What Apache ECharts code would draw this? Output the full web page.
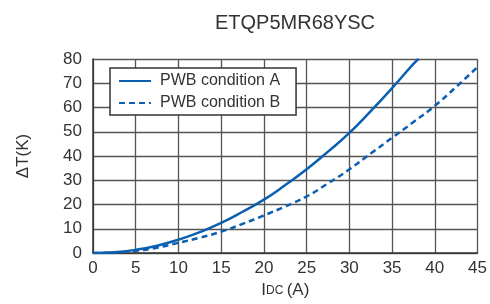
<!DOCTYPE html>
<html>
<head>
<meta charset="utf-8">
<script src="https://cdn.jsdelivr.net/npm/echarts@6/dist/echarts.min.js"></script>
<style>
  html, body { margin: 0; padding: 0; background: #fff; }
  #chart { width: 490px; height: 304px; }
</style>
</head>
<body>
<div id="chart"></div>
<script>
const title = 'ETQP5MR68YSC'
const seriesNames = ['PWB condition A', 'PWB condition B']
const currentA = [0, 2.5, 5, 7.5, 10, 12.5, 15, 17.5, 20, 22.5, 25, 27.5, 30, 32.5, 35, 37.5, 38.1]
const riseA = [0, 0.3, 1.3, 3, 5.5, 8.6, 12.4, 17, 22, 28, 34.5, 41.8, 49.5, 58.5, 68, 78, 80]
const currentB = [0, 2.5, 5, 7.5, 10, 12.5, 15, 17.5, 20, 22.5, 25, 27.5, 30, 32.5, 35, 37.5, 40, 42.5, 45]
const riseB = [0, 0.2, 0.9, 2.2, 4.2, 6.3, 8.8, 12, 15.5, 19.2, 23.3, 28.7, 34.5, 41, 47.5, 54, 60.7, 68.5, 76.7]

const font = '"Liberation Sans", Arial, sans-serif'
const chart = echarts.init(document.getElementById('chart'))

const pairs = (xs, ys) => xs.map((x, i) => [x, ys[i]])

chart.setOption({
  backgroundColor: '#fff',
  animation: false,
  title: {
    text: title,
    left: 290,
    textAlign: 'center',
    top: 8,
    textStyle: { color: '#333', fontSize: 20, fontWeight: 'normal', fontFamily: font }
  },
  legend: {
    left: 110,
    top: 68,
    orient: 'vertical',
    itemWidth: 32,
    itemHeight: 10,
    itemGap: 6,
    padding: [5, 16, 4, 8],
    backgroundColor: '#fff',
    borderColor: '#333',
    borderWidth: 1.5,
    borderRadius: 0,
    itemStyle: { opacity: 0 },
    lineStyle: { opacity: 1 },
    textStyle: { color: '#333', fontSize: 16, fontFamily: font, padding: [0, 0, 0, 4] },
    data: seriesNames
  },
  grid: { left: 93, right: 6, top: 59, bottom: 51 },
  xAxis: {
    type: 'value',
    min: 0,
    max: 45,
    interval: 5,
    name: '{i|I}{s|DC} {i|(A)}',
    nameLocation: 'middle',
    nameGap: 29,
    nameTextStyle: {
      rich: {
        i: { fontSize: 17, color: '#333', fontFamily: font },
        s: { fontSize: 12, color: '#333', fontFamily: font }
      }
    },
    axisLine: { show: true, lineStyle: { color: '#333', width: 1.5 } },
    axisTick: { show: false },
    axisLabel: { color: '#333', fontSize: 17, fontFamily: font, margin: 7 },
    splitLine: { show: true, lineStyle: { color: '#555', width: 1.3 } }
  },
  yAxis: {
    type: 'value',
    min: 0,
    max: 80,
    interval: 10,
    name: 'ΔT(K)',
    nameLocation: 'middle',
    nameGap: 61,
    nameTextStyle: { color: '#333', fontSize: 17, fontFamily: font },
    axisLine: { show: true, lineStyle: { color: '#333', width: 1.5 } },
    axisTick: { show: false },
    axisLabel: { color: '#333', fontSize: 17, fontFamily: font, margin: 11 },
    splitLine: { show: true, lineStyle: { color: '#555', width: 1.3 } }
  },
  series: [
    {
      name: seriesNames[0],
      type: 'line',
      smooth: true,
      symbol: 'none',
      lineStyle: { color: '#0a5fb0', width: 2.5, type: 'solid' },
      itemStyle: { color: '#0a5fb0' },
      data: pairs(currentA, riseA)
    },
    {
      name: seriesNames[1],
      type: 'line',
      smooth: true,
      symbol: 'none',
      lineStyle: { color: '#0a5fb0', width: 2.5, type: [6, 4] },
      itemStyle: { color: '#0a5fb0' },
      data: pairs(currentB, riseB)
    }
  ]
})
</script>
</body>
</html>
